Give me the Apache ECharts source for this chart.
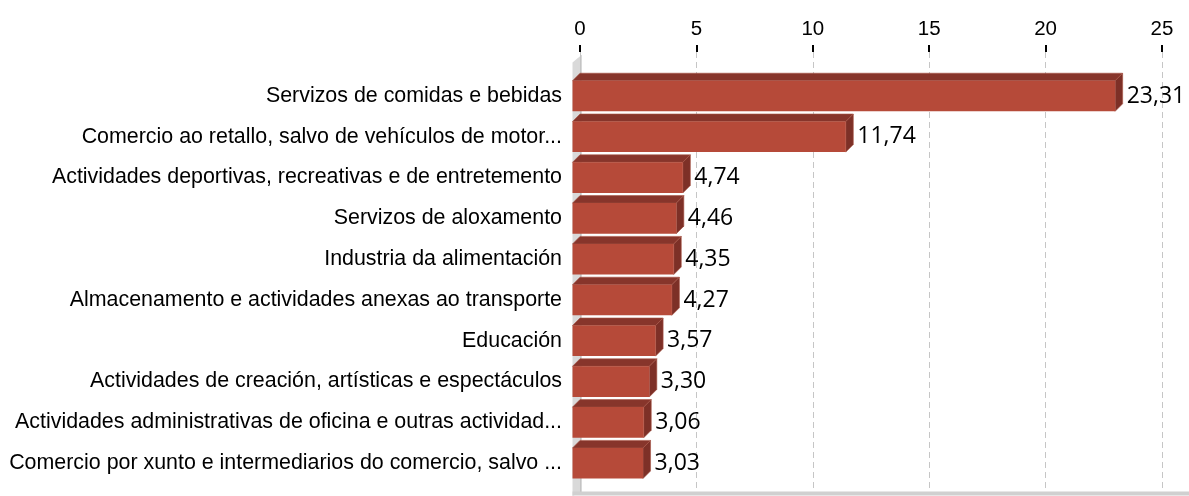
<!DOCTYPE html>
<html>
<head>
<meta charset="utf-8">
<style>
  html, body { margin: 0; padding: 0; background: #ffffff; }
  #chart { width: 1189px; height: 496px; }
</style>
<script src="https://cdn.jsdelivr.net/npm/echarts@6/dist/echarts.min.js"></script>
</head>
<body>
<div id="chart"></div>
<script>
// Sectors and their share (%)
const categories = [
  'Servizos de comidas e bebidas',
  'Comercio ao retallo, salvo de vehículos de motor...',
  'Actividades deportivas, recreativas e de entretemento',
  'Servizos de aloxamento',
  'Industria da alimentación',
  'Almacenamento e actividades anexas ao transporte',
  'Educación',
  'Actividades de creación, artísticas e espectáculos',
  'Actividades administrativas de oficina e outras actividad...',
  'Comercio por xunto e intermediarios do comercio, salvo ...'
];
const values = [23.31, 11.74, 4.74, 4.46, 4.35, 4.27, 3.57, 3.30, 3.06, 3.03];
const axisMin = 0;
const axisMax = 25;
const axisStep = 5;

// Layout of the pseudo-3D box
const W = 1189, H = 496;
const plotLeft = 580, plotRight = 1162;
const depth = 7.5;           // offset between front and back faces
const barRatio = 0.75;       // front face height / category band

const COLORS = {
  front: '#b64a39',
  top: '#87352b',
  side: '#7d3027',
  edge: '#a85445',
  wall: '#d9d9d9',
  wallEdge: '#c4c4c4',
  floor: '#d0d0d0',
  grid: '#c6c6c6'
};

const fmt = v => v.toFixed(2).replace('.', ',');

const chart = echarts.init(document.getElementById('chart'), null, { renderer: 'canvas' });

function renderBar(params, api) {
  const v = api.value(0);
  const idx = api.value(1);
  const p0 = api.coord([axisMin, idx]);
  const p1 = api.coord([v, idx]);
  const band = api.size([0, 1])[1];
  const h = band * barRatio;
  const yc = p0[1];
  const yTop = yc - h / 2;
  const yBot = yc + h / 2;
  const x0 = p0[0] - depth;   // front face left
  const x1 = p1[0] - depth;   // front face right
  return {
    type: 'group',
    children: [
      {
        type: 'polygon',
        shape: { points: [[x0, yTop], [x1, yTop], [x1 + depth, yTop - depth], [x0 + depth, yTop - depth]] },
        style: { fill: COLORS.top, stroke: COLORS.edge, lineWidth: 0.6 }
      },
      {
        type: 'polygon',
        shape: { points: [[x1, yTop], [x1 + depth, yTop - depth], [x1 + depth, yBot - depth], [x1, yBot]] },
        style: { fill: COLORS.side, stroke: COLORS.edge, lineWidth: 0.6 }
      },
      {
        type: 'rect',
        shape: { x: x0, y: yTop, width: x1 - x0, height: h },
        style: { fill: COLORS.front }
      },
      {
        type: 'text',
        style: {
          text: fmt(v),
          x: p1[0] + 4,
          y: yc,
          verticalAlign: 'middle',
          align: 'left',
          fill: '#000000',
          font: '23px "Open Sans", sans-serif'
        }
      }
    ]
  };
}

const option = {
  animation: false,
  backgroundColor: '#ffffff',
  grid: [
    // frame for the value axis and its dashed guide lines
    { left: plotLeft, right: W - plotRight, top: 52, bottom: 5 },
    // category bands, centred on the front faces of the bars
    { left: plotLeft, right: W - plotRight, top: 75.6, bottom: 12.4 }
  ],
  xAxis: [
    {
      gridIndex: 0,
      type: 'value',
      position: 'top',
      min: axisMin,
      max: axisMax,
      interval: axisStep,
      axisLine: { show: true, onZero: false, lineStyle: { color: 'rgba(0,0,0,0)' } },
      axisTick: { show: true, length: 7, lineStyle: { color: '#000', width: 2 } },
      axisLabel: {
        margin: 12,
        color: '#000',
        fontSize: 20.5,
        fontFamily: '"Liberation Sans", Arial, sans-serif'
      },
      splitLine: {
        show: true,
        lineStyle: { color: COLORS.grid, type: [6, 4], width: 1 }
      }
    },
    {
      gridIndex: 1,
      type: 'value',
      min: axisMin,
      max: axisMax,
      interval: axisStep,
      show: false
    }
  ],
  yAxis: [
    {
      gridIndex: 1,
      type: 'category',
      data: categories,
      inverse: true,
      axisLine: { show: false },
      axisTick: { show: false },
      splitLine: { show: false },
      axisLabel: {
        margin: 18,
        color: '#000',
        fontSize: 21.4,
        fontFamily: '"Liberation Sans", Arial, sans-serif'
      }
    },
    {
      gridIndex: 0,
      type: 'value',
      min: 0,
      max: 1,
      show: false
    }
  ],
  graphic: [
    // left wall of the box
    {
      type: 'polygon',
      z: 1,
      silent: true,
      shape: { points: [[plotLeft + 1.5, 55], [plotLeft + 1.5, 492], [plotLeft - depth, H], [plotLeft - depth, 62.5]] },
      style: { fill: COLORS.wall }
    },
    {
      type: 'rect',
      z: 1,
      silent: true,
      shape: { x: plotLeft, y: 55, width: 1.5, height: 437 },
      style: { fill: COLORS.wallEdge }
    },
    // floor strip
    {
      type: 'rect',
      z: 1,
      silent: true,
      shape: { x: plotLeft - depth, y: 491.5, width: W - plotLeft + depth, height: 4 },
      style: { fill: COLORS.floor }
    }
  ],
  series: [
    {
      type: 'custom',
      xAxisIndex: 1,
      yAxisIndex: 0,
      z: 3,
      renderItem: renderBar,
      encode: { x: 0, y: 1 },
      data: values.map((v, i) => [v, i])
    }
  ]
};

chart.setOption(option);
</script>
</body>
</html>
